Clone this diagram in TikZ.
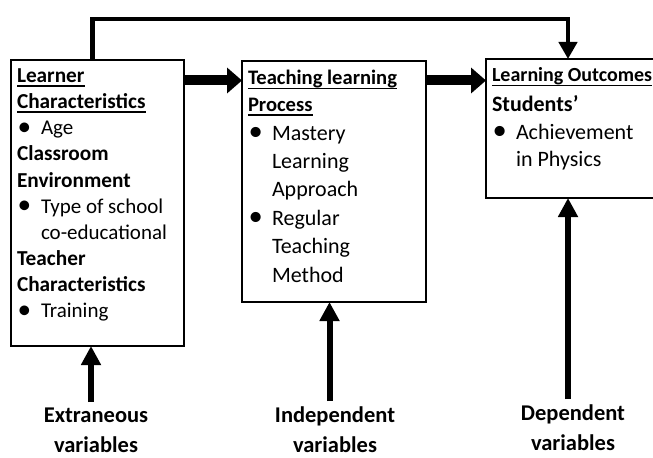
\documentclass[tikz,border=0pt]{standalone}
\usepackage{fontspec}
\setmainfont{Carlito}
\usetikzlibrary{arrows.meta}
\newcommand\ulx[1]{\leavevmode\setbox0\hbox{#1}\rlap{\rule[-4.5bp]{\wd0}{1.8bp}}\box0}
\newcommand\bul{\makebox[24bp][l]{\hspace{0.5bp}\raisebox{-0.4bp}{\scalebox{1.3}{•}}}}
\newcommand\ind{\hspace*{24bp}}
\newcommand\hdA[1]{{\fontsize{21.3bp}{26.1bp}\selectfont\bfseries #1}}
\newcommand\hdB[1]{{\fontsize{20.6bp}{26bp}\selectfont\bfseries #1}}
\newcommand\hdC[1]{{\fontsize{20bp}{26bp}\selectfont\bfseries #1}}
\newcommand\hdD[1]{{\fontsize{22bp}{26bp}\selectfont\bfseries #1}}
\begin{document}
\begin{tikzpicture}[x=1bp,y=-1bp,
  box/.style={draw, line width=1.6bp, anchor=north west, inner xsep=6bp, inner ysep=0pt, outer sep=0pt},
  thickarrow/.style={line width=10bp, -{Triangle[length=15bp,width=25bp]}},
  uparrow/.style={line width=6bp, -{Triangle[length=19bp,width=19bp]}},
  toparrow/.style={line width=4.5bp, -{Triangle[length=17bp,width=18bp]}},
  varlabel/.style={font=\fontsize{22.5bp}{30bp}\selectfont\bfseries, align=center, inner sep=0pt, anchor=base}]
\useasboundingbox (0,0) rectangle (653,458);

\node[box] (lc) at (11,60) {\parbox[c][286bp][t]{161bp}{\fontsize{21bp}{26.1bp}\selectfont\lineskiplimit=-100bp\raggedright
\rule{0pt}{22.7bp}\ulx{\hdA{Learner}}\\
\ulx{\hdA{Characteristics}}\\
\bul Age\\
\hdA{Classroom}\\
\hdA{Environment}\\
\bul Type of school\\
\ind co-educational\\
\hdA{Teacher}\\
\hdA{Characteristics}\\
\bul Training\par}};

\node[box] (tl) at (242,61) {\parbox[c][241bp][t]{172bp}{\fontsize{22bp}{28.4bp}\selectfont\lineskiplimit=-100bp\raggedright
\rule{0pt}{24bp}\ulx{\hdB{Teaching learning}}\\[-1.7bp]
\ulx{\hdB{Process}}\\
\bul Mastery\\
\ind Learning\\
\ind Approach\\
\bul Regular\\
\ind Teaching\\
\ind Method\par}};

\node[box] (lo) at (486,59) {\parbox[c][139bp][t]{173bp}{\fontsize{22bp}{27.5bp}\selectfont\lineskiplimit=-100bp\raggedright
\rule{0pt}{23bp}\ulx{\hdC{Learning Outcomes}}\\[2.2bp]
\hdD{Students’}\\
\bul Achievement\\
\ind in Physics\par}};

\node[varlabel] (ev) at (96,452) {Extraneous\\variables};
\node[varlabel] (iv) at (335,452) {Independent\\variables};
\node[varlabel] (dv) at (573,450) {Dependent\\variables};

\coordinate (h) at (0,80.5);
\draw[thickarrow] (lc.east |- h) -- (tl.west |- h);
\draw[thickarrow] (tl.east |- h) -- (lo.west |- h);

\coordinate (t1) at (92.5,19);
\coordinate (t2) at (568,19);
\draw[toparrow] (t1 |- lc.north) -- (t1) -- (t2) -- (t2 |- lo.north);

\draw[uparrow] ([xshift=-5bp,yshift=5bp]ev.north) -- ([xshift=-5bp]ev.north |- lc.south);
\draw[uparrow] ([xshift=-5.5bp,yshift=5bp]iv.north) -- ([xshift=-5.5bp]iv.north |- tl.south);
\draw[uparrow] ([xshift=-5bp,yshift=5bp]dv.north) -- ([xshift=-5bp]dv.north |- lo.south);
\end{tikzpicture}
\end{document}
